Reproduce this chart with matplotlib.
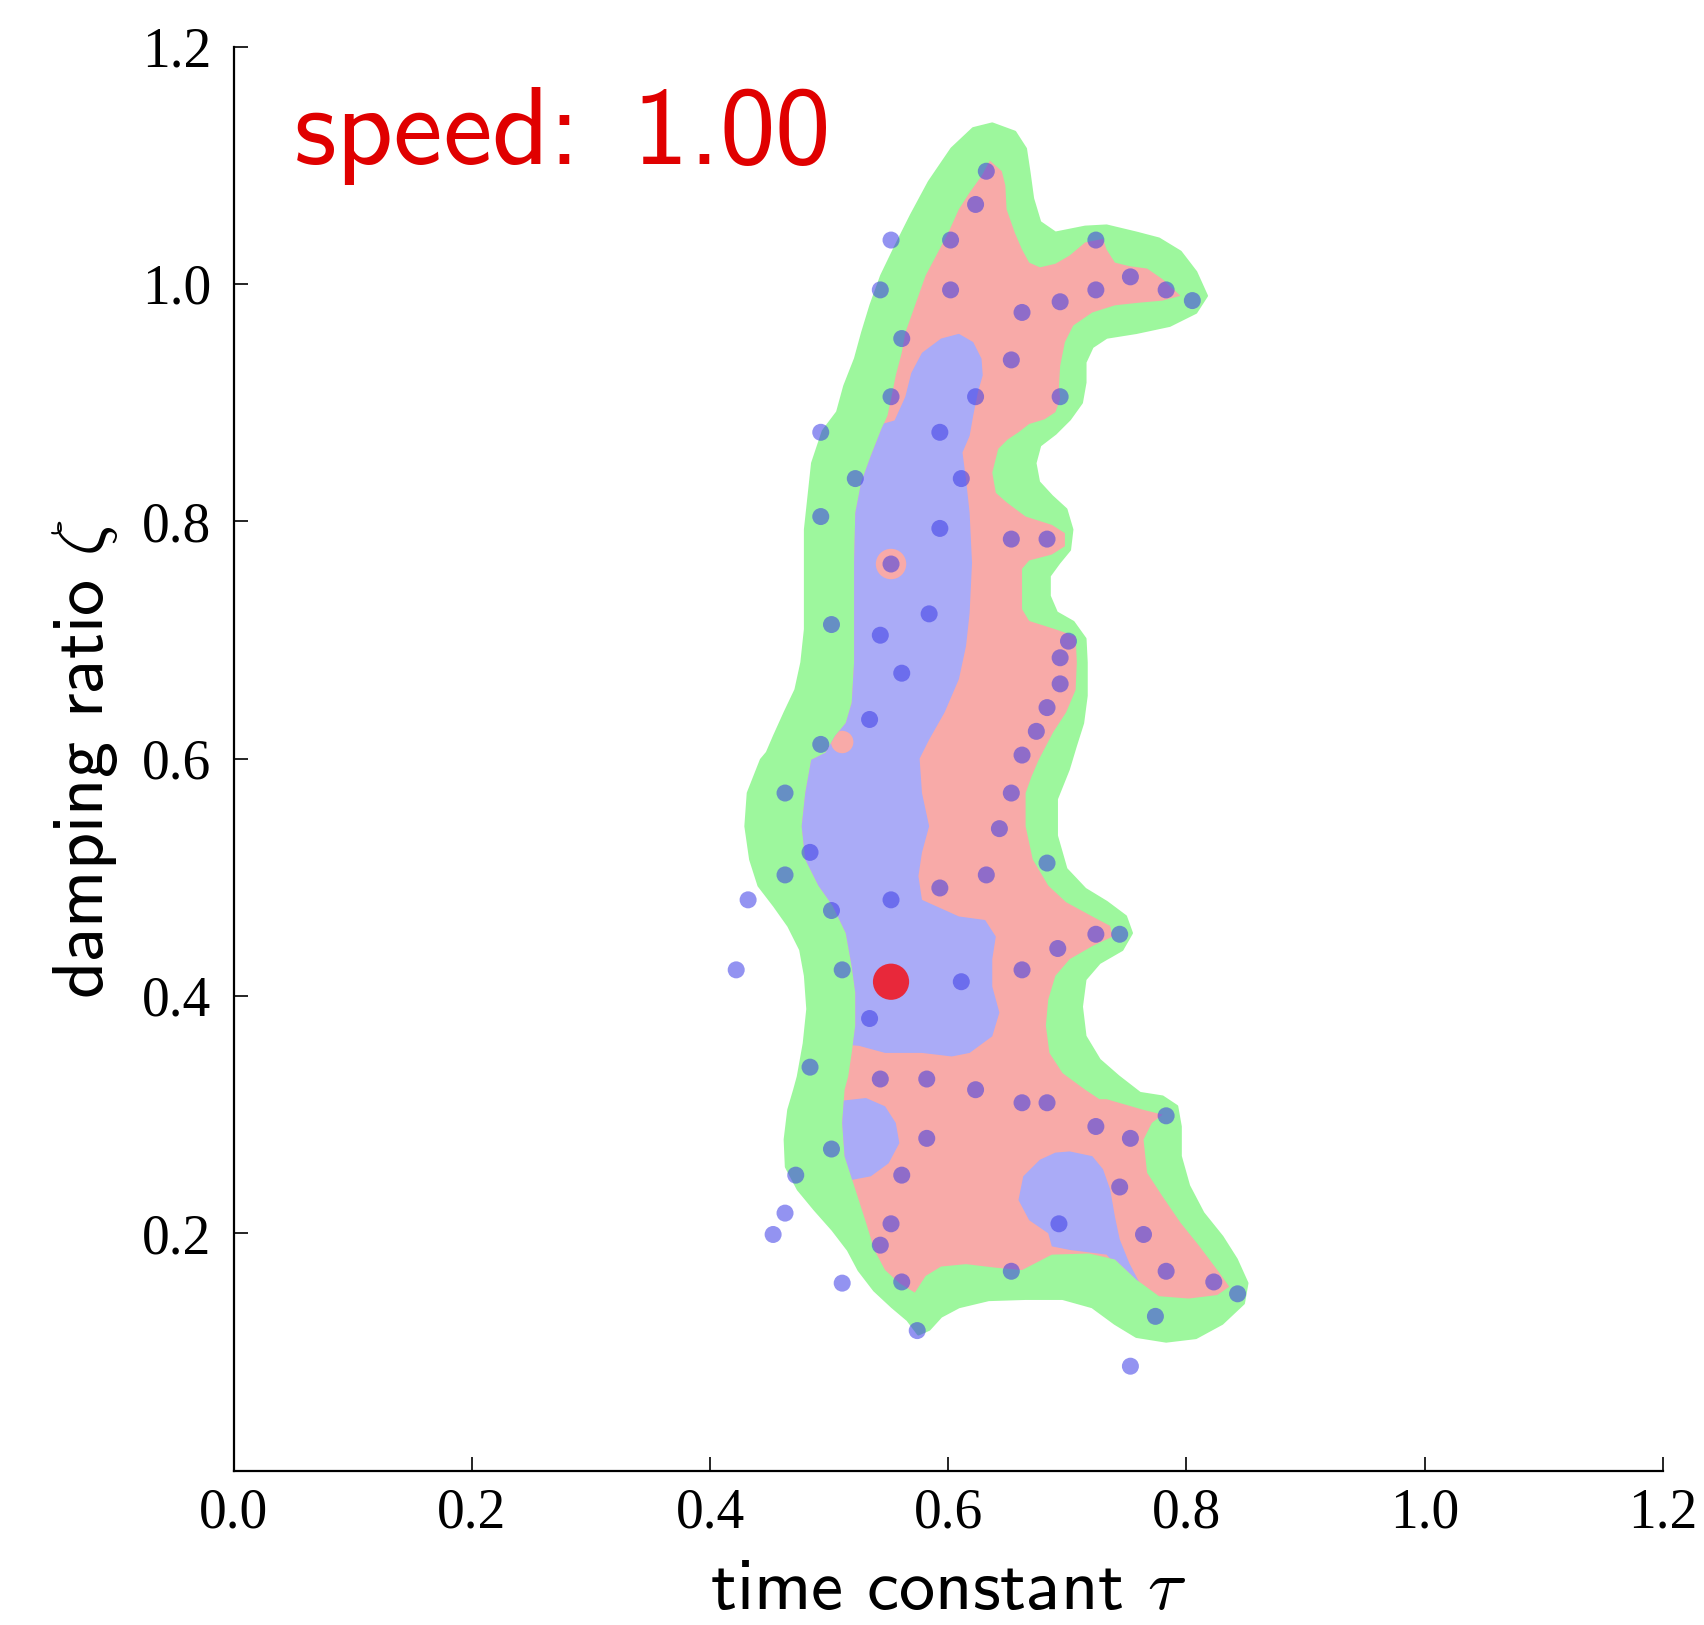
import matplotlib
matplotlib.use("Agg")
import matplotlib.pyplot as plt
from matplotlib.patches import Polygon

plt.rcParams['mathtext.fontset'] = 'cm'

# ---------------- data ----------------
tau_pts = [0.632, 0.623, 0.552, 0.602, 0.724, 0.543, 0.602, 0.724, 0.753, 0.783,
           0.805, 0.662, 0.694, 0.561, 0.653, 0.552, 0.623, 0.694, 0.493, 0.593,
           0.522, 0.611, 0.493, 0.593, 0.653, 0.683, 0.552, 0.502, 0.543, 0.584,
           0.561, 0.701, 0.694, 0.694, 0.683, 0.674, 0.662, 0.534, 0.493, 0.653,
           0.463, 0.643, 0.484, 0.463, 0.632, 0.683, 0.593, 0.552, 0.432, 0.502,
           0.724, 0.744, 0.692, 0.662, 0.511, 0.422, 0.611, 0.534, 0.484, 0.543,
           0.582, 0.623, 0.662, 0.683, 0.724, 0.753, 0.783, 0.502, 0.582, 0.561,
           0.744, 0.472, 0.463, 0.453, 0.552, 0.543, 0.693, 0.764, 0.511, 0.561,
           0.653, 0.783, 0.823, 0.843, 0.774, 0.574, 0.753]
zeta_pts = [1.095, 1.067, 1.037, 1.037, 1.037, 0.995, 0.995, 0.995, 1.006, 0.995,
            0.986, 0.976, 0.985, 0.954, 0.936, 0.905, 0.905, 0.905, 0.875, 0.875,
            0.836, 0.836, 0.804, 0.794, 0.785, 0.785, 0.764, 0.713, 0.704, 0.722,
            0.672, 0.699, 0.685, 0.663, 0.643, 0.623, 0.603, 0.633, 0.612, 0.571,
            0.571, 0.541, 0.521, 0.502, 0.502, 0.512, 0.491, 0.481, 0.481, 0.472,
            0.452, 0.452, 0.440, 0.422, 0.422, 0.422, 0.412, 0.381, 0.340, 0.330,
            0.330, 0.321, 0.310, 0.310, 0.290, 0.280, 0.299, 0.271, 0.280, 0.249,
            0.239, 0.249, 0.217, 0.199, 0.208, 0.190, 0.208, 0.199, 0.158, 0.159,
            0.168, 0.168, 0.159, 0.149, 0.130, 0.118, 0.088]
best_tau = [0.552]
best_zeta = [0.412]

# outer (green) region outline
green_tau = [0.637, 0.656, 0.665, 0.668, 0.671, 0.677, 0.690, 0.715, 0.733, 0.758,
             0.777, 0.795, 0.808, 0.817, 0.808, 0.786, 0.758, 0.733, 0.721, 0.715,
             0.715, 0.712, 0.702, 0.690, 0.677, 0.673, 0.676, 0.687, 0.699, 0.704,
             0.702, 0.693, 0.685, 0.685, 0.691, 0.705, 0.715, 0.716, 0.716, 0.713,
             0.707, 0.701, 0.691, 0.691, 0.699, 0.715, 0.733, 0.749, 0.754, 0.746,
             0.727, 0.715, 0.712, 0.715, 0.727, 0.743, 0.761, 0.780, 0.792, 0.795,
             0.795, 0.802, 0.814, 0.830, 0.842, 0.851, 0.848, 0.830, 0.808, 0.783,
             0.758, 0.740, 0.721, 0.696, 0.665, 0.634, 0.609, 0.594, 0.584, 0.575,
             0.566, 0.553, 0.538, 0.525, 0.516, 0.503, 0.488, 0.474, 0.464, 0.463,
             0.466, 0.471, 0.474, 0.479, 0.482, 0.480, 0.476, 0.466, 0.454, 0.441,
             0.434, 0.430, 0.432, 0.443, 0.448, 0.454, 0.463, 0.472, 0.477, 0.480,
             0.480, 0.480, 0.483, 0.486, 0.495, 0.507, 0.513, 0.522, 0.528, 0.535,
             0.544, 0.556, 0.569, 0.584, 0.603, 0.621]
green_zeta = [1.135, 1.128, 1.114, 1.094, 1.072, 1.052, 1.043, 1.048, 1.049, 1.043,
              1.038, 1.027, 1.010, 0.990, 0.976, 0.965, 0.959, 0.955, 0.947, 0.934,
              0.917, 0.900, 0.886, 0.874, 0.864, 0.849, 0.833, 0.821, 0.810, 0.793,
              0.776, 0.765, 0.754, 0.737, 0.723, 0.715, 0.701, 0.681, 0.653, 0.630,
              0.611, 0.591, 0.566, 0.535, 0.507, 0.490, 0.479, 0.467, 0.453, 0.439,
              0.428, 0.414, 0.391, 0.366, 0.346, 0.332, 0.318, 0.315, 0.307, 0.290,
              0.265, 0.240, 0.217, 0.197, 0.178, 0.158, 0.141, 0.124, 0.112, 0.109,
              0.113, 0.124, 0.138, 0.145, 0.145, 0.144, 0.138, 0.130, 0.119, 0.115,
              0.127, 0.138, 0.152, 0.169, 0.186, 0.203, 0.220, 0.237, 0.256, 0.279,
              0.304, 0.321, 0.332, 0.360, 0.389, 0.417, 0.439, 0.459, 0.476, 0.493,
              0.515, 0.543, 0.571, 0.599, 0.605, 0.619, 0.639, 0.658, 0.681, 0.709,
              0.751, 0.793, 0.821, 0.849, 0.876, 0.892, 0.914, 0.937, 0.959, 0.982,
              1.007, 1.032, 1.058, 1.086, 1.114, 1.131]

# middle (red) region outline
red_tau = [0.635, 0.645, 0.648, 0.649, 0.656, 0.662, 0.668, 0.677, 0.690, 0.702,
           0.715, 0.730, 0.733, 0.740, 0.752, 0.767, 0.780, 0.795, 0.780, 0.758,
           0.740, 0.721, 0.705, 0.698, 0.694, 0.693, 0.694, 0.690, 0.681, 0.668,
           0.659, 0.650, 0.642, 0.637, 0.640, 0.649, 0.665, 0.687, 0.698, 0.698,
           0.687, 0.668, 0.662, 0.662, 0.668, 0.690, 0.707, 0.708, 0.707, 0.699,
           0.688, 0.676, 0.670, 0.665, 0.665, 0.671, 0.684, 0.699, 0.721, 0.736,
           0.738, 0.721, 0.702, 0.690, 0.684, 0.682, 0.685, 0.696, 0.715, 0.727,
           0.733, 0.764, 0.780, 0.771, 0.764, 0.767, 0.780, 0.795, 0.811, 0.826,
           0.836, 0.826, 0.802, 0.777, 0.758, 0.740, 0.718, 0.687, 0.662, 0.640,
           0.615, 0.594, 0.581, 0.572, 0.559, 0.547, 0.538, 0.531, 0.522, 0.513,
           0.511, 0.513, 0.516, 0.519, 0.522, 0.522, 0.519, 0.514, 0.503, 0.491,
           0.480, 0.477, 0.480, 0.485, 0.487, 0.497, 0.505, 0.514, 0.519, 0.521,
           0.521, 0.521, 0.522, 0.527, 0.535, 0.544, 0.549, 0.552, 0.556, 0.561,
           0.564, 0.569, 0.575, 0.581, 0.590, 0.600, 0.609, 0.618, 0.628]
red_zeta = [1.104, 1.095, 1.083, 1.063, 1.043, 1.029, 1.018, 1.014, 1.017, 1.024,
            1.035, 1.038, 1.029, 1.018, 1.015, 1.013, 1.004, 0.990, 0.986, 0.984,
            0.982, 0.976, 0.965, 0.951, 0.931, 0.914, 0.903, 0.892, 0.886, 0.882,
            0.875, 0.869, 0.861, 0.841, 0.824, 0.816, 0.804, 0.797, 0.790, 0.779,
            0.772, 0.767, 0.760, 0.726, 0.716, 0.709, 0.703, 0.681, 0.658, 0.639,
            0.622, 0.599, 0.585, 0.571, 0.543, 0.515, 0.493, 0.479, 0.467, 0.459,
            0.450, 0.442, 0.431, 0.417, 0.397, 0.375, 0.352, 0.335, 0.321, 0.313,
            0.313, 0.304, 0.300, 0.293, 0.279, 0.251, 0.231, 0.209, 0.189, 0.169,
            0.155, 0.148, 0.145, 0.147, 0.161, 0.178, 0.183, 0.182, 0.169, 0.171,
            0.174, 0.172, 0.164, 0.150, 0.158, 0.169, 0.186, 0.209, 0.237, 0.265,
            0.293, 0.321, 0.332, 0.352, 0.375, 0.403, 0.425, 0.453, 0.476, 0.493,
            0.515, 0.543, 0.571, 0.599, 0.600, 0.605, 0.619, 0.630, 0.647, 0.681,
            0.723, 0.765, 0.807, 0.833, 0.855, 0.878, 0.889, 0.903, 0.923, 0.942,
            0.959, 0.973, 0.990, 1.007, 1.024, 1.043, 1.063, 1.077, 1.091]

# inner (blue) regions
blue_main_tau = [0.609, 0.621, 0.628, 0.629, 0.625, 0.621, 0.618, 0.612, 0.615, 0.618,
                 0.620, 0.618, 0.615, 0.609, 0.597, 0.584, 0.576, 0.578, 0.584, 0.578,
                 0.575, 0.578, 0.609, 0.631, 0.640, 0.637, 0.637, 0.643, 0.637, 0.618,
                 0.603, 0.578, 0.547, 0.525, 0.500, 0.440, 0.440, 0.520, 0.555, 0.564,
                 0.569, 0.578, 0.594]
blue_main_zeta = [0.958, 0.951, 0.937, 0.923, 0.909, 0.889, 0.872, 0.858, 0.835, 0.807,
                  0.765, 0.723, 0.695, 0.667, 0.639, 0.616, 0.600, 0.571, 0.543, 0.521,
                  0.501, 0.481, 0.467, 0.464, 0.450, 0.431, 0.408, 0.386, 0.366, 0.352,
                  0.349, 0.352, 0.352, 0.358, 0.360, 0.360, 0.870, 0.875, 0.885, 0.905,
                  0.925, 0.942, 0.954]
blue_blob1_tau = [0.513, 0.531, 0.547, 0.556, 0.559, 0.550, 0.535, 0.519, 0.510, 0.480,
                  0.480]
blue_blob1_zeta = [0.312, 0.314, 0.307, 0.293, 0.276, 0.259, 0.248, 0.245, 0.251, 0.250,
                   0.312]
blue_blob2_tau = [0.702, 0.721, 0.730, 0.736, 0.740, 0.744, 0.752, 0.765, 0.749, 0.733,
                  0.702, 0.687, 0.684, 0.668, 0.659, 0.663, 0.677, 0.690]
blue_blob2_zeta = [0.269, 0.265, 0.254, 0.237, 0.214, 0.195, 0.175, 0.150, 0.164, 0.182,
                   0.186, 0.189, 0.200, 0.211, 0.228, 0.248, 0.262, 0.268]

# small red islands inside the blue region
island_tau = [0.552, 0.511]
island_zeta = [0.764, 0.614]

x_ticks = [0.0, 0.2, 0.4, 0.6, 0.8, 1.0, 1.2]
x_tick_labels = ['0.0', '0.2', '0.4', '0.6', '0.8', '1.0', '1.2']
y_ticks = [0.2, 0.4, 0.6, 0.8, 1.0, 1.2]
y_tick_labels = ['0.2', '0.4', '0.6', '0.8', '1.0', '1.2']
speed_value = 1.00

# ---------------- drawing ----------------
GREEN = '#9df79d'
PINK = '#f8aaa8'
BLUE = '#aaabf7'
PT = '#3a3ae6'

fig = plt.figure(figsize=(17.04, 16.25), dpi=100)
ax = fig.add_axes([0.1371, 0.0950, 0.8387, 0.8763])
ax.set_xlim(0, 1.2)
ax.set_ylim(0, 1.2)

green = Polygon(list(zip(green_tau, green_zeta)), closed=True, facecolor=GREEN,
                edgecolor=GREEN, linewidth=2, joinstyle='round', zorder=1)
ax.add_patch(green)
red = Polygon(list(zip(red_tau, red_zeta)), closed=True, facecolor=PINK,
              edgecolor='none', zorder=2)
ax.add_patch(red)
for bt, bz in [(blue_main_tau, blue_main_zeta), (blue_blob1_tau, blue_blob1_zeta),
               (blue_blob2_tau, blue_blob2_zeta)]:
    p = Polygon(list(zip(bt, bz)), closed=True, facecolor=BLUE, edgecolor='none', zorder=3)
    ax.add_patch(p)
    p.set_clip_path(red)
isl = ax.scatter(island_tau, island_zeta, s=[480, 260], color=PINK, edgecolors='none',
                 zorder=3.5)
isl.set_clip_path(red)

ax.scatter(tau_pts, zeta_pts, s=150, color=PT, alpha=0.55, edgecolors='none', zorder=4)
ax.scatter(best_tau, best_zeta, s=680, color='#e8283a', edgecolors='none', zorder=5)

ax.text(0.0497, 1.101, 'speed: $\\,$%.2f' % speed_value, color='#e00000', fontsize=80,
        family=['cmss10', 'DejaVu Sans'], ha='left', va='baseline', zorder=6)

for s in ['top', 'right']:
    ax.spines[s].set_visible(False)
for s in ['left', 'bottom']:
    ax.spines[s].set_linewidth(1.6)

ax.set_xticks(x_ticks)
ax.set_xticklabels(x_tick_labels, family='Liberation Serif', fontsize=40)
ax.set_yticks(y_ticks)
ax.set_yticklabels(y_tick_labels, family='Liberation Serif', fontsize=40)
ax.tick_params(axis='both', direction='in', length=10, width=1.2)
ax.tick_params(axis='x', pad=12)
ax.tick_params(axis='y', pad=16)

ax.set_xlabel(r'time constant $\tau$', fontsize=52, family=['cmss10', 'DejaVu Sans'],
              labelpad=14)
ax.set_ylabel(r'damping ratio $\zeta$', fontsize=52, family=['cmss10', 'DejaVu Sans'],
              labelpad=16)

fig.savefig('out.png', dpi=100)
